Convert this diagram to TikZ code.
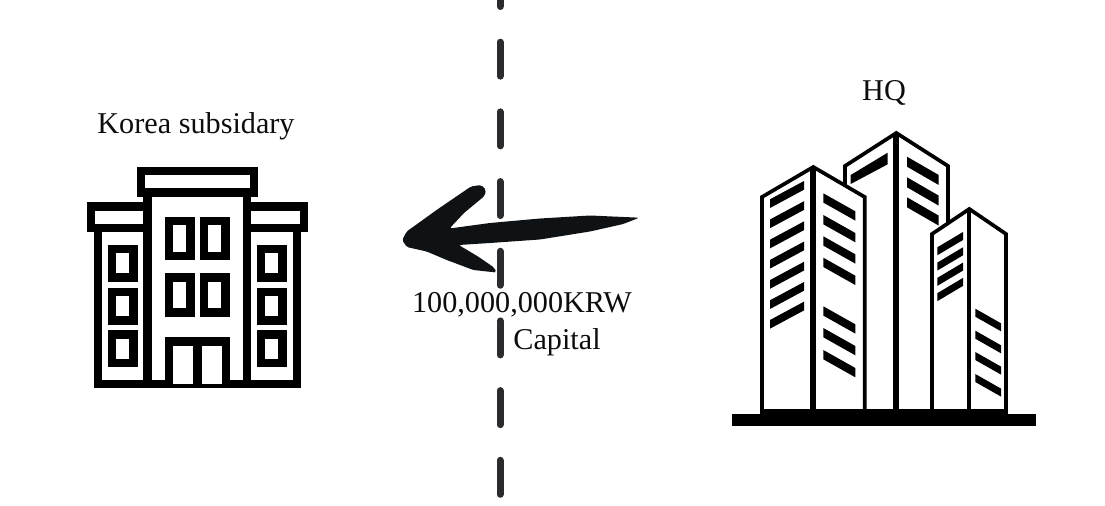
\documentclass[tikz,border=0pt]{standalone}
\usepackage{fontspec}
\setmainfont{Liberation Serif}
\usetikzlibrary{positioning}
\definecolor{ink}{HTML}{0F1214}
\definecolor{dashgray}{HTML}{2B2B2D}
\tikzset{
  label/.style={text=black!95,inner sep=0pt,font=\fontsize{17.2}{20}\selectfont},
  thick wall/.style={draw=black,line width=0.166cm,fill=white},
  thin wall/.style={draw=black,line width=0.074cm,fill=white,line join=miter},
  center post/.style={draw=black,line width=0.12cm},
}
\begin{document}
\begin{tikzpicture}[x=0.02cm,y=-0.02cm]
\useasboundingbox (0,0) rectangle (1105,506);
% border line
\coordinate (linetop) at (500,0);
\coordinate (linebottom) at (500,494.5);
\draw[dashgray,line width=0.14cm,line cap=round,dash pattern=on 0.68cm off 0.714cm,dash phase=0.55cm] (linetop)--(linebottom);
% subsidiary building
\draw[thick wall] (98,384)--(98,228)--(297,228)--(297,384)--cycle;
\draw[thick wall] (91,206.5) rectangle (304,228);
\draw[thick wall] (147.5,192)--(147.5,384)--(247,384)--(247,192);
\fill[white] (152,190) rectangle (243,210);
\draw[thick wall] (141,171) rectangle (254,192.5);
\foreach \xa in {169,204} {
  \foreach \ya in {221,277.5} {
    \draw[line width=0.166cm,fill=white] (\xa,\ya) rectangle ++(21.5,35);
  }
}
\draw[line width=0.166cm,fill=white] (169,384)--(169,341.5)--(226,341.5)--(226,384);
\draw[line width=0.166cm] (197.5,341.5)--(197.5,384);
\foreach \xa in {112,261} {
  \foreach \ya in {249,292,334.5} {
    \draw[line width=0.166cm,fill=white] (\xa,\ya) rectangle ++(21.5,28.5);
  }
}
% middle tower
\draw[thin wall] (845,412)--(845,166)--(896.3,133)--(948,166)--(948,412)--cycle;
\draw[center post] (896.3,133)--(896.3,412);
\fill (850.7,175)--(887.7,152.7)--(887.7,164.3)--(850.7,184)--cycle;
\foreach \ya in {156.7,177.3,197.3} {
  \fill (907,\ya)--(938.7,\ya+18.3)--(938.7,\ya+28.3)--(907,\ya+10)--cycle;
}
% left tower
\draw[thin wall] (762,412)--(762,197)--(813.3,167)--(864.7,197)--(864.7,412)--cycle;
\draw[center post] (813.3,167)--(813.3,412);
\foreach \ya in {199.3,219.5,239.7,259.9,280.1,300.3,320} {
  \fill (770,\ya)--(804,\ya-18.3)--(804,\ya-9.6)--(770,\ya+8.7)--cycle;
}
\foreach \ya in {193.3,215,236.3,257.7,306.3,328,350} {
  \fill (823.3,\ya)--(855.3,\ya+18)--(855.3,\ya+27.3)--(823.3,\ya+9.3)--cycle;
}
% right tower
\draw[thin wall] (932,412)--(932,234)--(969.3,209)--(1006,234)--(1006,412)--cycle;
\draw[draw=black,line width=0.08cm] (969.3,209)--(969.3,412);
\foreach \ya in {247.3,262.6,277.9,293.2} {
  \fill (937.3,\ya)--(963,\ya-15.3)--(963,\ya-7.3)--(937.3,\ya+8)--cycle;
}
\foreach \ya in {308.7,330.7,352,374} {
  \fill (975.3,\ya)--(1001,\ya+14.6)--(1001,\ya+22.6)--(975.3,\ya+8)--cycle;
}
% ground
\fill (760,409) rectangle (1008,415);
\fill (732,414) rectangle (1036,426);
% brush arrow
\fill[ink,rounded corners=1pt] (639.3,217.7)--(590,215.5)--(540,218.5)--(490,223)--(449.5,228.5)
  --(464,213)--(484.5,196)--(486,190)--(481,185)--(471,186.5)--(438,209)--(406.7,231.5)
  --(402.2,240)--(406.7,247)--(426.7,251.5)--(446.7,260)--(473.3,270)--(496.5,272.5)--(494,267.5)
  --(478,256.5)--(458.7,245)--(490,243)--(540,239.5)--(590,231.5)--(623.3,224)--cycle;
% labels
\node[label] (subsidiary) at (196,126) {Korea subsidary};
\node[label] (hq) at (884,93) {HQ};
\node[label] (amount) at (522,305) {100,000,000KRW};
\node[label] (capital) at (557,342) {Capital};
\end{tikzpicture}
\end{document}
